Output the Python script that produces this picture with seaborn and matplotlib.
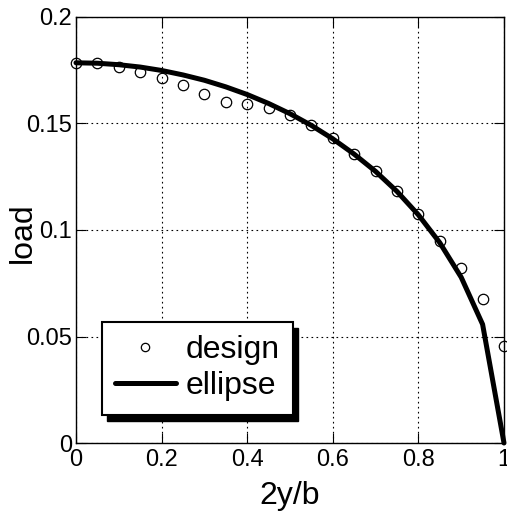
import numpy as np
import pandas as pd
import matplotlib
matplotlib.use("Agg")
import matplotlib.pyplot as plt
from matplotlib.patches import Rectangle
import seaborn as sns

# data
span = [0.00, 0.05, 0.10, 0.15, 0.20, 0.25, 0.30, 0.35, 0.40, 0.45, 0.50,
        0.55, 0.60, 0.65, 0.70, 0.75, 0.80, 0.85, 0.90, 0.95, 1.00]
design = [0.1785, 0.1784, 0.1765, 0.1743, 0.1715, 0.1682, 0.1638, 0.1600,
          0.1590, 0.1571, 0.1540, 0.1495, 0.1430, 0.1357, 0.1277, 0.1185,
          0.1074, 0.0950, 0.0822, 0.0678, 0.0455]
ellipse = [0.1785, 0.1783, 0.1776, 0.1765, 0.1749, 0.1728, 0.1703, 0.1672,
           0.1636, 0.1594, 0.1546, 0.1491, 0.1428, 0.1356, 0.1275, 0.1181,
           0.1071, 0.0940, 0.0778, 0.0557, 0.0000]
xticks = [0, 0.2, 0.4, 0.6, 0.8, 1]
xticklabels = ["0", "0.2", "0.4", "0.6", "0.8", "1"]
yticks = [0, 0.05, 0.1, 0.15, 0.2]
yticklabels = ["0", "0.05", "0.1", "0.15", "0.2"]

sns.set_theme(style="white")
plt.rcParams["font.family"] = ["Liberation Sans", "DejaVu Sans"]
plt.rcParams["text.color"] = "black"

df = pd.DataFrame({"span": span, "design": design, "ellipse": ellipse})

fig = plt.figure(figsize=(5.07, 5.15), dpi=100)
ax = fig.add_axes([76 / 507, 1 - 443 / 515, 428 / 507, 426 / 515])

sns.lineplot(data=df, x="span", y="design", ax=ax, linestyle="", marker="o",
             markersize=7.5, markerfacecolor="none", markeredgecolor="black",
             markeredgewidth=0.9, color="black", label="design", clip_on=False,
             zorder=4)
sns.lineplot(data=df, x="span", y="ellipse", ax=ax, color="black",
             linewidth=3.6, label="ellipse", zorder=3, clip_on=False)

ax.set_xlim(0, 1)
ax.set_ylim(0, 0.2)
ax.set_xticks(xticks)
ax.set_xticklabels(xticklabels)
ax.set_yticks(yticks)
ax.set_yticklabels(yticklabels)
ax.set_xlabel("2y/b", fontsize=23, color="black")
ax.set_ylabel("load", fontsize=23, color="black")
ax.xaxis.set_label_coords(0.5, -0.089)
ax.yaxis.set_label_coords(-0.088, 0.494)

ax.grid(True, color="black", linestyle=(0, (1.5, 3)), linewidth=0.8)
ax.set_axisbelow(True)
ax.tick_params(axis="both", which="major", direction="in", length=7,
               width=0.8, color="black", labelsize=17, labelcolor="black",
               top=True, right=True, bottom=True, left=True)
ax.tick_params(axis="x", pad=4)
ax.tick_params(axis="y", pad=3)
for s in ax.spines.values():
    s.set_visible(True)
    s.set_color("black")
    s.set_linewidth(1.0)

leg = ax.legend(loc="lower left", bbox_to_anchor=(0.060, 0.066),
                fontsize=23, frameon=True, fancybox=False, shadow=False,
                handlelength=1.9, handletextpad=0.3, borderpad=0.42,
                labelspacing=0.2, borderaxespad=0.0, markerscale=0.8,
                labelcolor="black")
leg.get_frame().set_edgecolor("black")
leg.get_frame().set_linewidth(1.5)
leg.get_frame().set_facecolor("white")
leg.get_frame().set_alpha(1.0)
leg.set_zorder(6)

# black drop shadow behind the legend box
fig.canvas.draw()
bb = leg.get_window_extent().transformed(fig.transFigure.inverted())
dx, dy = 5 / 507, 6 / 515
shadow = Rectangle((bb.x0 + dx, bb.y0 - dy), bb.width, bb.height,
                   transform=fig.transFigure, facecolor="black",
                   edgecolor="black", zorder=5.5, clip_on=False)
ax.add_patch(shadow)

fig.savefig("out.png", dpi=100, facecolor="white")
